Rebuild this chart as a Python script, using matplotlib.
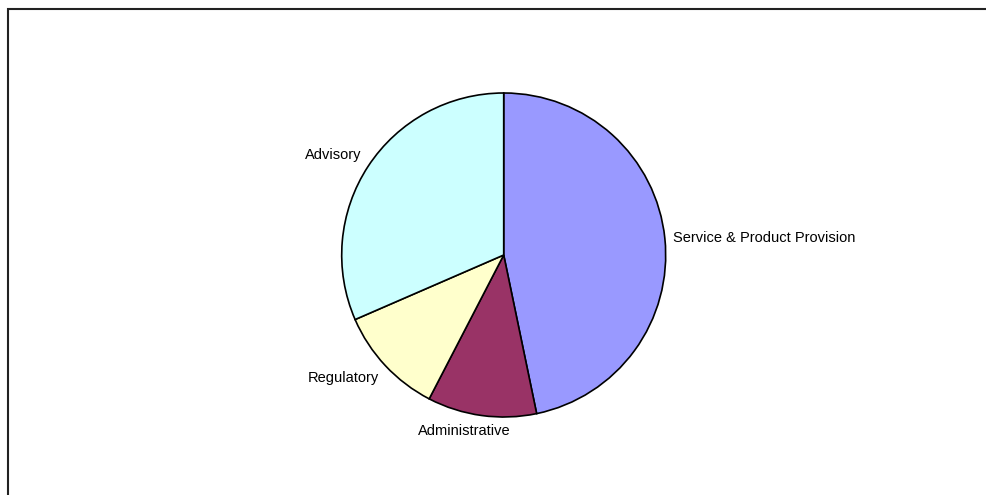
import numpy as np
import matplotlib.pyplot as plt
from matplotlib.patches import Rectangle

plt.rcParams['font.family'] = ['Liberation Sans', 'DejaVu Sans']

# data
labels = ['Service & Product Provision', 'Administrative', 'Regulatory', 'Advisory']
values = [43, 10, 10, 29]
colors = ['#9999FF', '#993366', '#FFFFCC', '#CCFFFF']

W, H = 987, 495
cx, cy, rad = 503.7, 255.0, 162.0  # pie centre / radius in pixels (from top-left)

fig = plt.figure(figsize=(W / 100, H / 100), dpi=100)
ax = fig.add_axes([0, 0, 1, 1])

wedges, _ = ax.pie(values, colors=colors, startangle=90, counterclock=False,
                   wedgeprops=dict(edgecolor='black', linewidth=1.2),
                   radius=1.0, center=(0, 0), frame=True)
ax.set_aspect('auto')
ax.set_xlim(-cx / rad, (W - cx) / rad)
ax.set_ylim(-(H - cy) / rad, cy / rad)
ax.axis('off')

for w, lab in zip(wedges, labels):
    mid = np.deg2rad((w.theta1 + w.theta2) / 2)
    c, s = np.cos(mid), np.sin(mid)
    d = 1.05
    if abs(c) < 0.3:
        ha = 'center'
        va = 'top' if s < 0 else 'bottom'
        x = d * c - 0.1
    else:
        ha = 'left' if c > 0 else 'right'
        if abs(s) < 0.3:
            va = 'center'
        else:
            va = 'top' if s < 0 else 'bottom'
        x = d * c
    ax.text(x, d * s, lab, ha=ha, va=va, fontsize=10.5, color='black')

# outer chart-area frame (only top and left edges show in the picture)
fig.patches.append(Rectangle((8.5 / W, -0.1), 1.2, 1.1 - 9 / H,
                             transform=fig.transFigure, fill=False,
                             edgecolor='#222222', linewidth=1.5))

fig.savefig('out.png', dpi=100)
